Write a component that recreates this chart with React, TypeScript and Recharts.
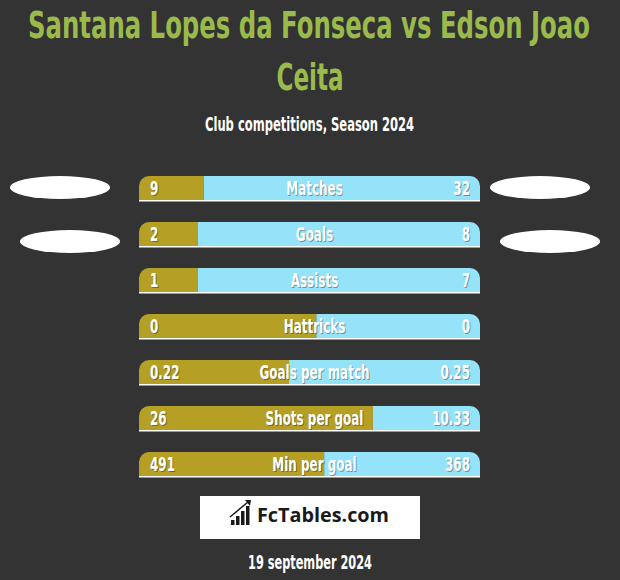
import React from 'react';
import { BarChart, Bar, XAxis, YAxis, LabelList } from 'recharts';

// stat rows, top to bottom
const categories = ['Matches', 'Goals', 'Assists', 'Hattricks', 'Goals per match', 'Shots per goal', 'Min per goal'];
const leftValues = ['9', '2', '1', '0', '0.22', '26', '491'];
const rightValues = ['32', '8', '7', '0', '0.25', '10.33', '368'];
// share of the bar taken by the left player (%)
const leftShare = [19, 17.3, 17.3, 52, 44, 68.6, 54.3];

const data = categories.map((name, i) => ({
  name,
  left: leftShare[i],
  right: 100 - leftShare[i],
  leftValue: leftValues[i],
  rightValue: rightValues[i],
}));

const BG = '#333333';
const OLIVE = '#b59f24';
const CYAN = '#95e3f9';
const GREEN = '#9aba4b';
const NARROW = "'Liberation Sans Narrow', 'DejaVu Sans Condensed', sans-serif";

const PLOT_LEFT = 139;
const PLOT_RIGHT = 480;
const SQUEEZE = 0.7;

const ShadowText = ({ x, y, anchor, children }: any) => (
  <g transform={`translate(${x},${y}) scale(${SQUEEZE},1)`} fontFamily={NARROW} fontWeight="bold" fontSize={19} textAnchor={anchor}>
    <text x={1.4} y={1} fill="rgba(0,0,0,0.35)">{children}</text>
    <text x={0} y={0} fill="#ffffff">{children}</text>
  </g>
);

const makeLabel = (pos: 'left' | 'center' | 'right') => (props: any) => {
  const vb = props.viewBox || props;
  const y = vb.y + vb.height / 2 + 7;
  if (pos === 'left') return <ShadowText x={PLOT_LEFT + 11} y={y} anchor="start">{props.value}</ShadowText>;
  if (pos === 'right') return <ShadowText x={PLOT_RIGHT - 10} y={y} anchor="end">{props.value}</ShadowText>;
  return <ShadowText x={(PLOT_LEFT + PLOT_RIGHT) / 2 + 5} y={y} anchor="middle">{props.value}</ShadowText>;
};

// white underline for each row, plus the two placeholder badges on the first rows
const Track = (props: any) => {
  const { x, y, width, height, index } = props;
  const cy = y + height / 2;
  return (
    <g>
      <rect x={x} y={y + height} width={width} height={1.5} fill="#ffffff" />
      {index === 0 && (
        <>
          <ellipse cx={60} cy={cy - 0.5} rx={50} ry={11.5} fill="#ffffff" />
          <ellipse cx={540} cy={cy - 0.5} rx={50} ry={11.5} fill="#ffffff" />
        </>
      )}
      {index === 1 && (
        <>
          <ellipse cx={70} cy={cy + 7.5} rx={50} ry={11.5} fill="#ffffff" />
          <ellipse cx={550} cy={cy + 7.5} rx={50} ry={11.5} fill="#ffffff" />
        </>
      )}
    </g>
  );
};

// squeezed text: drawn wide in local units, then scaled down horizontally
const Squeezed = ({ x, y, width, sx, size, fill, family, anchor = 'middle', children }: any) => (
  <g transform={`translate(${x},${y}) scale(${sx},1)`}>
    <text x={0} y={0} fontFamily={family} fontWeight="bold" fontSize={size} fill={fill}
      textAnchor={anchor} textLength={width / sx} lengthAdjust="spacingAndGlyphs">
      {children}
    </text>
  </g>
);

const Overlay = () => (
  <svg width={620} height={580} style={{ position: 'absolute', left: 0, top: 0, pointerEvents: 'none' }}>
    <Squeezed x={309} y={37.5} width={562} sx={0.7} size={38} fill={GREEN} family={NARROW}>
      Santana Lopes da Fonseca vs Edson Joao
    </Squeezed>
    <Squeezed x={310} y={89.5} width={67} sx={0.7} size={38} fill={GREEN} family={NARROW}>Ceita</Squeezed>
    <Squeezed x={309.5} y={131} width={209} sx={0.75} size={19} fill="#ffffff" family={NARROW}>
      Club competitions, Season 2024
    </Squeezed>
    <rect x={200} y={496} width={220} height={43} fill="#ffffff" />
    <g fill="#1a1a1a">
      <rect x={231} y={520} width={3.5} height={5} />
      <rect x={236} y={516} width={3.5} height={9} />
      <rect x={241} y={511} width={3.5} height={14} />
      <rect x={246} y={506} width={3.5} height={19} />
      <line x1={230} y1={517} x2={248} y2={502} stroke="#1a1a1a" strokeWidth={1.5} />
      <path d="M245 500 L251 500 L250 506 Z" />
    </g>
    <Squeezed x={257} y={522} width={132} sx={1} size={20} fill="#1a1a1a" anchor="start"
      family="'Open Sans', 'DejaVu Sans', sans-serif">
      FcTables.com
    </Squeezed>
    <Squeezed x={310} y={569} width={124} sx={0.75} size={19} fill="#ffffff" family={NARROW}>
      19 september 2024
    </Squeezed>
  </svg>
);

export default function App() {
  return (
    <div style={{ position: 'absolute', left: 0, top: 0, width: 620, height: 580, background: BG }}>
      <BarChart
        width={620}
        height={580}
        data={data}
        layout="vertical"
        barCategoryGap={0}
        margin={{ top: 165, right: 620 - PLOT_RIGHT, bottom: 93, left: PLOT_LEFT }}
      >
        <XAxis type="number" domain={[0, 100]} hide />
        <YAxis type="category" dataKey="name" hide />
        <Bar
          dataKey="left"
          stackId="row"
          fill={OLIVE}
          barSize={24}
          radius={[10, 0, 0, 0]}
          background={(p: any) => <Track {...p} />}
          isAnimationActive={false}
        />
        <Bar
          dataKey="right"
          stackId="row"
          fill={CYAN}
          barSize={24}
          radius={[0, 10, 0, 0]}
          isAnimationActive={false}
        >
          <LabelList dataKey="leftValue" content={makeLabel('left')} />
          <LabelList dataKey="name" content={makeLabel('center')} />
          <LabelList dataKey="rightValue" content={makeLabel('right')} />
        </Bar>
      </BarChart>
      <Overlay />
    </div>
  );
}
